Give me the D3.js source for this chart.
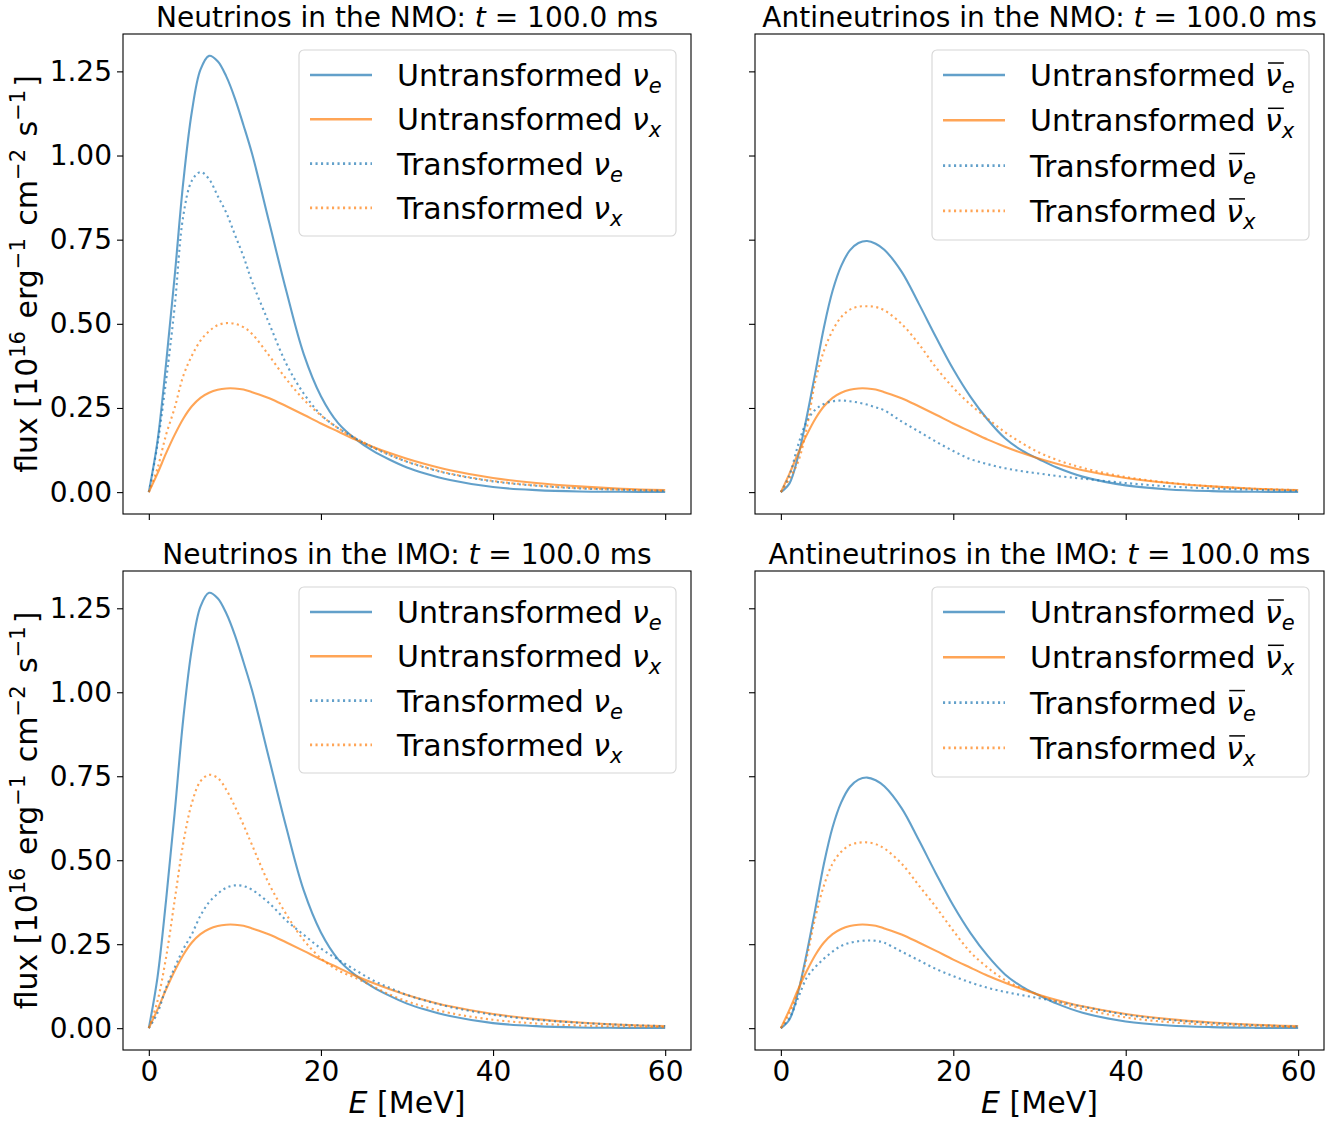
<!DOCTYPE html>
<html lang="en">
<head>
<meta charset="UTF-8">
<title>Neutrino spectra</title>
<script src="https://d3js.org/d3.v7.min.js"></script>
<style>
	body { margin: 0; background: #fff; }
	svg { font-family: "DejaVu Sans", sans-serif; }
</style>
</head>
<body>
<div id="chart"></div>
<script>
const energy = [0, 1, 2, 3, 4, 5, 6, 7, 8, 9, 10, 11, 12, 14, 16, 18, 20, 22, 24, 26, 28, 30, 32, 35, 40, 45, 50, 55, 60];

// flux in 1e16 erg^-1 cm^-2 s^-1
const nueUntransformed = [0, 0.15, 0.38, 0.64, 0.92, 1.13, 1.255, 1.296, 1.28, 1.235, 1.17, 1.09, 1.005, 0.80, 0.595, 0.41, 0.285, 0.205, 0.158, 0.123, 0.096, 0.073, 0.056, 0.036, 0.015, 0.006, 0.002, 0.001, 0.0003];
const nuxUntransformed = [0, 0.055, 0.115, 0.17, 0.218, 0.255, 0.28, 0.295, 0.304, 0.308, 0.308, 0.305, 0.297, 0.279, 0.255, 0.23, 0.204, 0.18, 0.156, 0.135, 0.116, 0.099, 0.084, 0.065, 0.042, 0.027, 0.017, 0.010, 0.006];
const nueNMO = [0, 0.14, 0.33, 0.55, 0.82, 0.925, 0.951, 0.93, 0.88, 0.83, 0.765, 0.70, 0.625, 0.50, 0.38, 0.293, 0.23, 0.19, 0.16, 0.133, 0.11, 0.09, 0.074, 0.054, 0.032, 0.019, 0.011, 0.007, 0.004];
const nuxNMO = [0, 0.07, 0.17, 0.25, 0.345, 0.405, 0.45, 0.478, 0.496, 0.502, 0.50, 0.49, 0.47, 0.405, 0.335, 0.275, 0.228, 0.19, 0.161, 0.134, 0.111, 0.091, 0.075, 0.055, 0.033, 0.02, 0.012, 0.007, 0.004];
const nueIMO = [0, 0.045, 0.12, 0.18, 0.235, 0.28, 0.335, 0.375, 0.40, 0.418, 0.425, 0.423, 0.412, 0.372, 0.32, 0.278, 0.237, 0.204, 0.173, 0.143, 0.12, 0.099, 0.083, 0.063, 0.040, 0.025, 0.016, 0.010, 0.006];
const nuxIMO = [0, 0.08, 0.21, 0.38, 0.55, 0.67, 0.735, 0.754, 0.745, 0.71, 0.66, 0.605, 0.545, 0.428, 0.338, 0.262, 0.208, 0.172, 0.150, 0.125, 0.10, 0.08, 0.064, 0.045, 0.025, 0.014, 0.008, 0.005, 0.003];

const anueUntransformed = [0, 0.026, 0.107, 0.223, 0.355, 0.49, 0.598, 0.672, 0.718, 0.740, 0.746, 0.738, 0.72, 0.655, 0.56, 0.46, 0.365, 0.283, 0.215, 0.16, 0.123, 0.097, 0.073, 0.046, 0.02, 0.008, 0.003, 0.001, 0.0004];
const anuxUntransformed = [0, 0.055, 0.115, 0.17, 0.218, 0.255, 0.28, 0.295, 0.304, 0.308, 0.308, 0.305, 0.297, 0.279, 0.255, 0.23, 0.204, 0.18, 0.156, 0.135, 0.116, 0.099, 0.084, 0.065, 0.042, 0.027, 0.017, 0.010, 0.006];
const anueNMO = [0, 0.05, 0.14, 0.21, 0.245, 0.262, 0.27, 0.272, 0.27, 0.266, 0.26, 0.252, 0.243, 0.21, 0.18, 0.15, 0.122, 0.098, 0.083, 0.071, 0.062, 0.055, 0.048, 0.04, 0.027, 0.017, 0.011, 0.007, 0.004];
const anuxNMO = [0, 0.04, 0.09, 0.19, 0.33, 0.42, 0.48, 0.52, 0.542, 0.551, 0.552, 0.55, 0.54, 0.50, 0.44, 0.37, 0.31, 0.26, 0.218, 0.178, 0.145, 0.117, 0.096, 0.072, 0.045, 0.028, 0.017, 0.01, 0.006];
const anueIMO = [0, 0.03, 0.09, 0.15, 0.182, 0.207, 0.228, 0.245, 0.254, 0.259, 0.261, 0.26, 0.254, 0.228, 0.202, 0.176, 0.155, 0.136, 0.12, 0.108, 0.098, 0.089, 0.079, 0.064, 0.040, 0.025, 0.015, 0.009, 0.005];
const anuxIMO = [0, 0.045, 0.11, 0.21, 0.33, 0.425, 0.49, 0.525, 0.545, 0.552, 0.553, 0.548, 0.535, 0.49, 0.425, 0.36, 0.29, 0.226, 0.18, 0.143, 0.118, 0.098, 0.079, 0.057, 0.032, 0.018, 0.01, 0.006, 0.003];

const xTicks = [0, 20, 40, 60];
const yTicks = [0, 0.25, 0.5, 0.75, 1.0, 1.25];
const legendWords = ["Untransformed", "Untransformed", "Transformed", "Transformed"];
const legendFlavours = ["e", "x", "e", "x"];

const blue = "#1f77b4", orange = "#ff7f0e";
const styles = [
	{ color: blue, dotted: false },
	{ color: orange, dotted: false },
	{ color: blue, dotted: true },
	{ color: orange, dotted: true }
];

const panels = [
	{ title: "Neutrinos in the NMO: ", anti: false, left: 123, right: 691, top: 34, bottom: 514, yLab: true, xLab: false,
	  series: [nueUntransformed, nuxUntransformed, nueNMO, nuxNMO] },
	{ title: "Antineutrinos in the NMO: ", anti: true, left: 755, right: 1324, top: 34, bottom: 514, yLab: false, xLab: false,
	  series: [anueUntransformed, anuxUntransformed, anueNMO, anuxNMO] },
	{ title: "Neutrinos in the IMO: ", anti: false, left: 123, right: 691, top: 571, bottom: 1050, yLab: true, xLab: true,
	  series: [nueUntransformed, nuxUntransformed, nueIMO, nuxIMO] },
	{ title: "Antineutrinos in the IMO: ", anti: true, left: 755, right: 1324, top: 571, bottom: 1050, yLab: false, xLab: true,
	  series: [anueUntransformed, anuxUntransformed, anueIMO, anuxIMO] }
];

const svg = d3.select("#chart").append("svg")
	.attr("width", 1341)
	.attr("height", 1123);

panels.forEach(drawPanel);

function drawPanel(p) {
	const g = svg.append("g");
	const x = d3.scaleLinear().domain([-3, 63]).range([p.left, p.right]);
	const y = d3.scaleLinear().domain([-0.065, 1.361]).range([p.bottom, p.top]);

	const line = d3.line()
		.x((d, i) => x(energy[i]))
		.y(d => y(d))
		.curve(d3.curveCatmullRom.alpha(0.5));

	p.series.forEach((values, k) => {
		g.append("path")
			.attr("d", line(values))
			.attr("fill", "none")
			.attr("stroke", styles[k].color)
			.attr("stroke-opacity", 0.7)
			.attr("stroke-width", 2.1)
			.attr("stroke-dasharray", styles[k].dotted ? "2.1,3.4" : null);
	});

	// axes
	const xAxis = g.append("g")
		.attr("transform", "translate(0," + p.bottom + ")")
		.call(d3.axisBottom(x).tickValues(xTicks).tickSize(6).tickPadding(5)
			.tickFormat(p.xLab ? d3.format("d") : () => ""));
	const yAxis = g.append("g")
		.attr("transform", "translate(" + p.left + ",0)")
		.call(d3.axisLeft(y).tickValues(yTicks).tickSize(6).tickPadding(5)
			.tickFormat(p.yLab ? d3.format(".2f") : () => ""));
	[xAxis, yAxis].forEach(a => {
		a.select(".domain").remove();
		a.selectAll("line").attr("stroke", "#000").attr("stroke-width", 1.1);
		a.selectAll("text").attr("font-size", 28).attr("font-family", "DejaVu Sans").attr("fill", "#000");
	});

	g.append("rect")
		.attr("x", p.left).attr("y", p.top)
		.attr("width", p.right - p.left).attr("height", p.bottom - p.top)
		.attr("fill", "none").attr("stroke", "#000").attr("stroke-width", 1.1);

	// title
	const cx = (p.left + p.right) / 2;
	const title = g.append("text")
		.attr("x", cx).attr("y", p.top - 7)
		.attr("text-anchor", "middle").attr("font-size", 28);
	title.append("tspan").text(p.title);
	title.append("tspan").attr("font-style", "italic").text("t");
	title.append("tspan").text(" = 100.0 ms");

	if (p.xLab) {
		const xl = g.append("text")
			.attr("x", cx).attr("y", p.bottom + 63)
			.attr("text-anchor", "middle").attr("font-size", 30);
		xl.append("tspan").attr("font-style", "italic").text("E");
		xl.append("tspan").text(" [MeV]");
	}

	if (p.yLab) {
		const cy = (p.top + p.bottom) / 2;
		const yl = g.append("text")
			.attr("transform", "translate(37," + cy + ") rotate(-90)")
			.attr("text-anchor", "middle").attr("font-size", 30);
		const parts = [["flux [10", "16"], [" erg", "\u22121"], [" cm", "\u22122"], [" s", "\u22121"]];
		parts.forEach(([base, sup]) => {
			yl.append("tspan").text(base);
			yl.append("tspan").attr("dy", -12).attr("font-size", 21).text(sup);
			yl.append("tspan").attr("dy", 12).text("\u200a");
		});
		yl.append("tspan").text("]");
	}

	drawLegend(g, p);
}

function drawLegend(g, p) {
	const boxLeft = p.right - 392;
	const boxTop = p.top + 16;
	const rowGap = p.anti ? 45.3 : 44.3;
	const boxH = p.anti ? 190 : 186;

	g.append("rect")
		.attr("x", boxLeft).attr("y", boxTop)
		.attr("width", 377).attr("height", boxH)
		.attr("rx", 5)
		.attr("fill", "#fff").attr("fill-opacity", 0.8)
		.attr("stroke", "#d6d6d6").attr("stroke-width", 1.1);

	legendWords.forEach((word, i) => {
		const cy = boxTop + 25 + i * rowGap;
		g.append("line")
			.attr("x1", boxLeft + 11).attr("x2", boxLeft + 73)
			.attr("y1", cy).attr("y2", cy)
			.attr("stroke", styles[i].color)
			.attr("stroke-opacity", 0.7)
			.attr("stroke-width", 2.6)
			.attr("stroke-dasharray", styles[i].dotted ? "2.1,3.4" : null);

		const t = g.append("text")
			.attr("x", boxLeft + 98).attr("y", cy + 11)
			.attr("font-size", 30);
		t.append("tspan").text(word + " ");
		t.append("tspan").attr("font-style", "italic").text("\u03bd");
		t.append("tspan").attr("font-style", "italic").attr("font-size", 21).attr("dy", 7).text(legendFlavours[i]);

		if (p.anti) {
			// bar over the antineutrino symbol
			const idx = word.length + 1;
			const ext = t.node().getExtentOfChar(idx);
			g.append("line")
				.attr("x1", ext.x + 3).attr("x2", ext.x + ext.width + 2)
				.attr("y1", cy - 12).attr("y2", cy - 12)
				.attr("stroke", "#000").attr("stroke-width", 1.5);
		}
	});
}
</script>
</body>
</html>
